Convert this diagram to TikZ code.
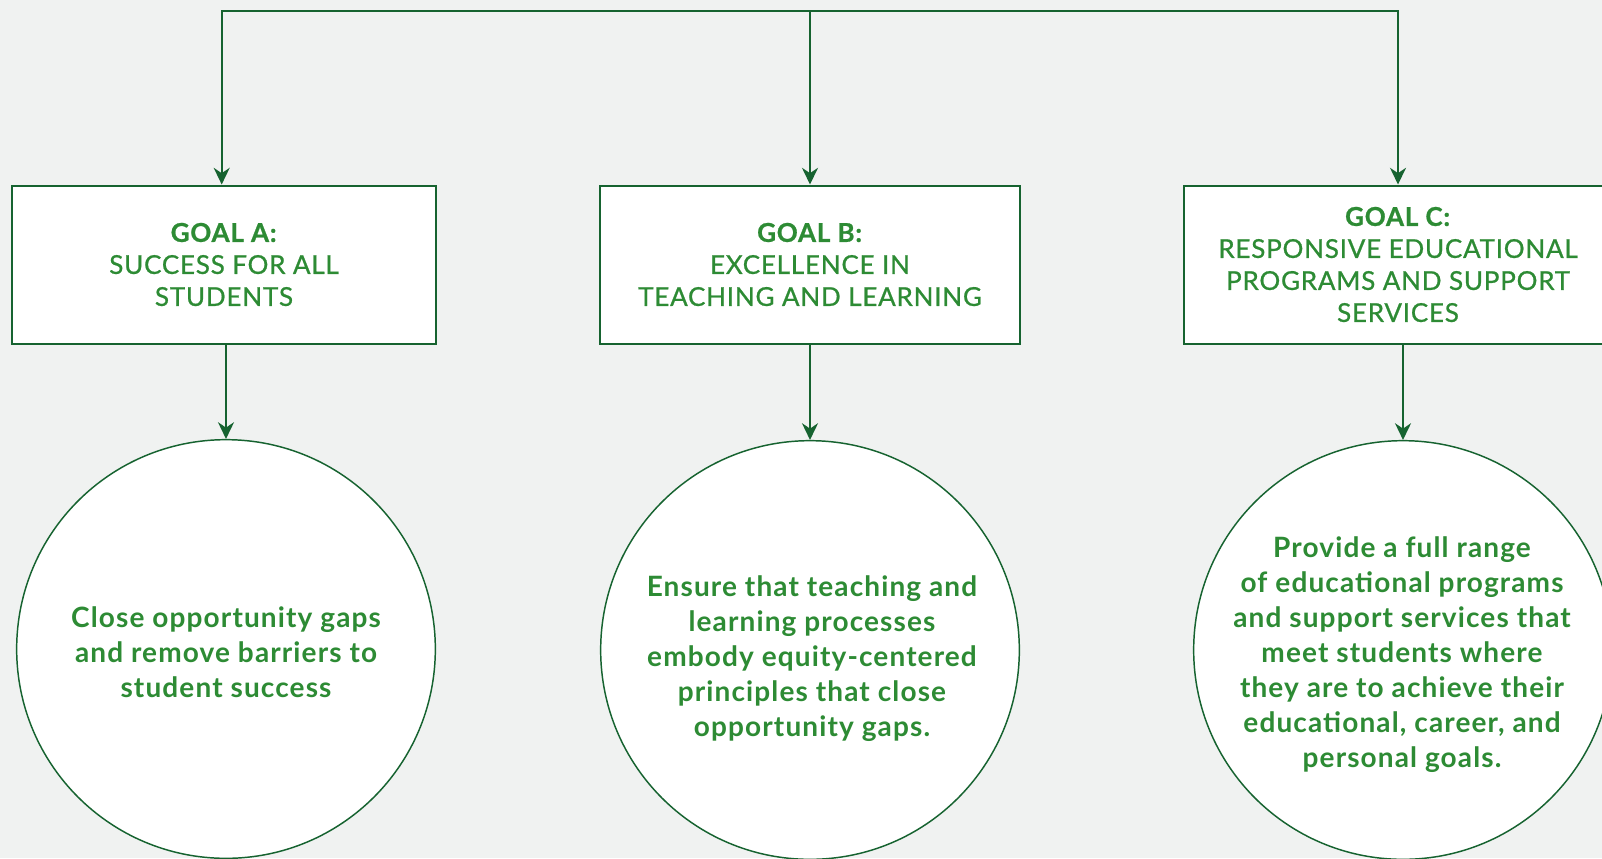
\documentclass[tikz,border=0pt]{standalone}
\usepackage{fontspec}
\setmainfont{Lato}
\newfontfamily\boxfont[LetterSpace=3,FakeBold=0.8]{Lato}
\newfontfamily\circfont[LetterSpace=4]{Lato}
\usetikzlibrary{arrows.meta}
\definecolor{bg}{RGB}{240,242,241}
\definecolor{txt}{RGB}{45,139,52}
\definecolor{ln}{RGB}{22,99,48}
\tikzset{gtip/.tip={Stealth[length=12.5pt,width=12pt,inset=4pt]}}
\begin{document}
\begin{tikzpicture}[x=0.75pt,y=-0.75pt,
  goalbox/.style={draw=ln,line width=1.5pt,fill=white,minimum height=118.5pt,inner sep=0pt,align=center,text=txt,font=\boxfont\fontsize{19.5}{24}\selectfont},
  goalcirc/.style={circle,draw=ln,line width=1.1pt,fill=white,minimum size=314pt,inner sep=0pt},
  circtext/.style={inner sep=0pt,align=center,text=txt,font=\circfont\fontsize{21}{26.25}\selectfont\bfseries},
  arr/.style={draw=ln,line width=1.5pt,-{gtip}},
  arrboth/.style={draw=ln,line width=1.5pt,{gtip}-{gtip}}]
\fill[bg] (0,0) rectangle (1602,858);
\useasboundingbox (0,0) rectangle (1602,858);
\begin{scope}
\clip (0,0) rectangle (1602,858);
\node[goalbox,minimum width=318pt] (boxA) at (224,264.5) {\textbf{GOAL A:}\\SUCCESS FOR ALL\\STUDENTS};
\node[goalbox,minimum width=315pt] (boxB) at (810,264.5) {\textbf{GOAL B:}\\EXCELLENCE IN\\TEACHING AND LEARNING};
\node[goalbox,minimum width=321pt] (boxC) at (1398,264.5) {\textbf{GOAL C:}\\RESPONSIVE EDUCATIONAL\\PROGRAMS AND SUPPORT\\SERVICES};
\node[goalcirc] (circA) at (226,649) {};
\node[goalcirc] (circB) at (810,650) {};
\node[goalcirc] (circC) at (1403,650) {};
\node[circtext] (txtA) at (226,652) {Close opportunity gaps\\and remove barriers to\\student success};
\node[circtext] (txtB) at (812,659) {Ensure that teaching and\\learning processes\\embody equity-centered\\principles that close\\opportunity gaps.};
\node[circtext] (txtC) at (1402,655) {Provide a full range\\of educational programs\\and support services that\\meet students where\\they are to achieve their\\educational, career, and\\personal goals.};
\coordinate (tA) at (221.7,10.5);
\coordinate (tB) at (810,10.5);
\coordinate (tC) at (1398,10.5);
\draw[arrboth] (tA |- boxA.north) -- (tA) -- (tC) -- (tC |- boxC.north);
\draw[arr] (tB) -- (boxB.north);
\draw[arr] (circA.north |- boxA.south) -- (circA.north);
\draw[arr] (boxB.south) -- (circB.north);
\draw[arr] (circC.north |- boxC.south) -- (circC.north);
\end{scope}
\end{tikzpicture}
\end{document}
